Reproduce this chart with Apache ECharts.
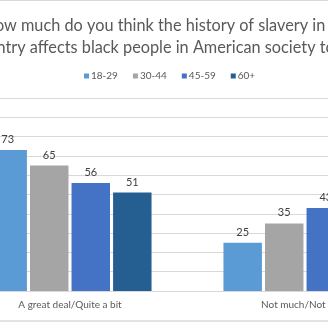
<!DOCTYPE html>
<html><head><meta charset="utf-8">
<script src="https://cdn.jsdelivr.net/npm/echarts@6/dist/echarts.min.js"></script>
<style>
html,body{margin:0;padding:0;width:328px;height:328px;overflow:hidden;background:#fff;position:relative;}
#frame{position:absolute;left:-100px;top:0;width:600px;height:322px;border-top:1px solid #d9d9d9;border-bottom:2px solid #e3e3e3;box-sizing:border-box;}
#chart{position:absolute;left:0;top:0;width:600px;height:320px;}
</style></head>
<body>
<div id="frame"><div id="chart"></div></div>
<script>
const titleText = "How much do you think the history of slavery in this\ncountry affects black people in American society today?";
const categories = ["A great deal/Quite a bit", "Not much/Not at all"];
const seriesNames = ["18-29", "30-44", "45-59", "60+"];
const v1829 = [73, 25];
const v3044 = [65, 35];
const v4559 = [56, 43];
const v60 = [51, 47];
const colors = ["#5B9BD5", "#A5A5A5", "#4472C4", "#255E91"];

const values = [v1829, v3044, v4559, v60];
const chart = echarts.init(document.getElementById('chart'), null, {renderer:'canvas'});
chart.setOption({
  animation:false,
  color: colors,
  title: {
    text: titleText,
    left: 264, textAlign: 'center', top: 9,
    textStyle: {fontFamily:'Lato', fontWeight:'normal', fontSize:16.3, color:'#595959', lineHeight:22}
  },
  legend: {
    data: seriesNames, left: 179, top: 65, itemWidth: 5, itemHeight: 5, itemGap: 15,
    icon: 'rect',
    textStyle: {fontFamily:'Lato', fontSize:10, color:'#595959', padding:[0,0,0,-3]}
  },
  grid: {left: 52.5, width: 470, top: 97, height: 193, containLabel:false},
  xAxis: {
    type:'category', data: categories,
    axisLine:{lineStyle:{color:'#d9d9d9'}}, axisTick:{show:false},
    axisLabel:{fontFamily:'Lato', fontSize:10, color:'#595959', margin:9}
  },
  yAxis: {
    type:'value', min:0, max:100, interval:10,
    axisLabel:{show:false}, axisLine:{show:false}, axisTick:{show:false},
    splitLine:{lineStyle:{color:'#d9d9d9'}}
  },
  series: seriesNames.map((n,i)=>({
    name:n, type:'bar', data: values[i], barGap:'8%', barCategoryGap:'30.6%',
    label:{show:true, position:'top', distance:5, fontFamily:'Lato', fontSize:11, color:'#404040'}
  }))
});
</script>
</body></html>
